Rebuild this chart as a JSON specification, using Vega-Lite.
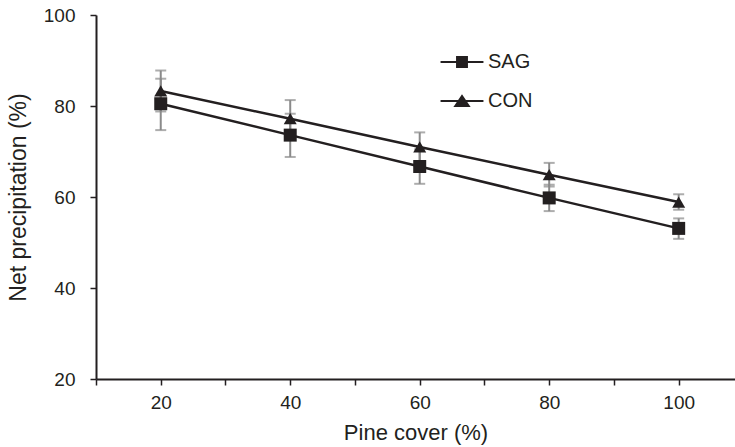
{
  "$schema": "https://vega.github.io/schema/vega-lite/v6.json",
  "width": 639,
  "height": 364,
  "autosize": "none",
  "padding": {"left": 96, "top": 15, "right": 0, "bottom": 68},
  "background": "white",
  "config": {
    "view": {"stroke": null},
    "font": "Liberation Sans",
    "axis": {
      "labelFont": "Liberation Sans",
      "titleFont": "Liberation Sans",
      "labelColor": "#231f20",
      "titleColor": "#231f20",
      "titleFontWeight": "normal",
      "domainColor": "#231f20",
      "domainWidth": 2,
      "tickColor": "#231f20",
      "tickWidth": 1.5,
      "grid": false
    }
  },
  "data": {
    "values": [
      {"cover": 20, "series": "SAG", "value": 80.5, "lo": 74.7, "hi": 86.0},
      {"cover": 40, "series": "SAG", "value": 73.6, "lo": 68.8, "hi": 78.3},
      {"cover": 60, "series": "SAG", "value": 66.7, "lo": 62.9, "hi": 70.5},
      {"cover": 80, "series": "SAG", "value": 59.8, "lo": 56.9, "hi": 62.7},
      {"cover": 100, "series": "SAG", "value": 53.1, "lo": 50.8, "hi": 55.3},
      {"cover": 20, "series": "CON", "value": 83.3, "lo": 78.8, "hi": 87.8},
      {"cover": 40, "series": "CON", "value": 77.2, "lo": 73.1, "hi": 81.3},
      {"cover": 60, "series": "CON", "value": 71.0, "lo": 67.8, "hi": 74.2},
      {"cover": 80, "series": "CON", "value": 64.9, "lo": 62.3, "hi": 67.5},
      {"cover": 100, "series": "CON", "value": 58.9, "lo": 57.2, "hi": 60.6}
    ]
  },
  "encoding": {
    "x": {
      "field": "cover",
      "type": "quantitative",
      "scale": {"domain": [10, 108.7], "nice": false, "zero": false},
      "axis": {
        "title": "Pine cover (%)",
        "titleFontSize": 22,
        "titlePadding": 10,
        "labelFontSize": 19,
        "labelPadding": 8,
        "tickSize": 6,
        "values": [10, 20, 30, 40, 50, 60, 70, 80, 90, 100],
        "labelExpr": "datum.value % 20 == 0 ? datum.label : ''",
        "labelFlush": false,
        "labelOverlap": false,
        "encode": {
          "ticks": {"update": {"strokeOpacity": {"signal": "datum.value % 20 == 0 ? 0 : 1"}}}
        }
      }
    },
    "y": {
      "field": "value",
      "type": "quantitative",
      "scale": {"domain": [20, 100], "nice": false, "zero": false},
      "axis": {
        "title": "Net precipitation (%)",
        "titleFontSize": 23,
        "titlePadding": 13,
        "labelFontSize": 19,
        "labelPadding": 15,
        "tickSize": 6,
        "values": [20, 40, 60, 80, 100]
      }
    }
  },
  "resolve": {"scale": {"shape": "independent"}},
  "layer": [
    {
      "mark": {"type": "rule", "color": "#8a8a8a", "strokeWidth": 2},
      "encoding": {
        "y": {"field": "lo", "type": "quantitative"},
        "y2": {"field": "hi"}
      }
    },
    {
      "mark": {"type": "tick", "color": "#8a8a8a", "orient": "horizontal", "size": 11, "thickness": 2},
      "encoding": {"y": {"field": "lo", "type": "quantitative"}}
    },
    {
      "mark": {"type": "tick", "color": "#8a8a8a", "orient": "horizontal", "size": 11, "thickness": 2},
      "encoding": {"y": {"field": "hi", "type": "quantitative"}}
    },
    {
      "mark": {"type": "line", "color": "#231f20", "strokeWidth": 2.5},
      "encoding": {
        "detail": {"field": "series"}
      }
    },
    {
      "mark": {"type": "point", "filled": true, "color": "#231f20", "opacity": 1, "size": 169},
      "encoding": {
        "shape": {
          "field": "series",
          "type": "nominal",
          "scale": {"domain": ["SAG", "CON"], "range": ["square", "triangle-up"]},
          "legend": null
        }
      }
    },
    {
      "mark": {"type": "point", "filled": false, "color": "#231f20", "strokeWidth": 2, "opacity": 0, "size": 900},
      "encoding": {
        "shape": {
          "field": "series",
          "type": "nominal",
          "scale": {
            "domain": ["SAG", "CON"],
            "range": [
              "M-1.43,0H1.43M-0.33,-0.33H0.33V0.33H-0.33ZM-0.33,-0.2H0.33M-0.33,-0.067H0.33M-0.33,0.067H0.33M-0.33,0.2H0.33",
              "M-1.43,0H1.43M-0.45,0.33L0,-0.33L0.45,0.33ZM-0.089,-0.2H0.089M-0.18,-0.067H0.18M-0.27,0.067H0.27M-0.36,0.2H0.36"
            ]
          },
          "legend": {
            "orient": "none",
            "legendX": 350,
            "legendY": 31,
            "title": null,
            "padding": 0,
            "symbolSize": 900,
            "symbolOpacity": 1,
            "symbolFillColor": "#231f20",
            "symbolStrokeColor": "#231f20",
            "symbolStrokeWidth": 2,
            "labelFont": "Liberation Sans",
            "labelFontSize": 20,
            "labelColor": "#231f20",
            "labelOffset": 10,
            "rowPadding": 13
          }
        }
      }
    }
  ]
}
